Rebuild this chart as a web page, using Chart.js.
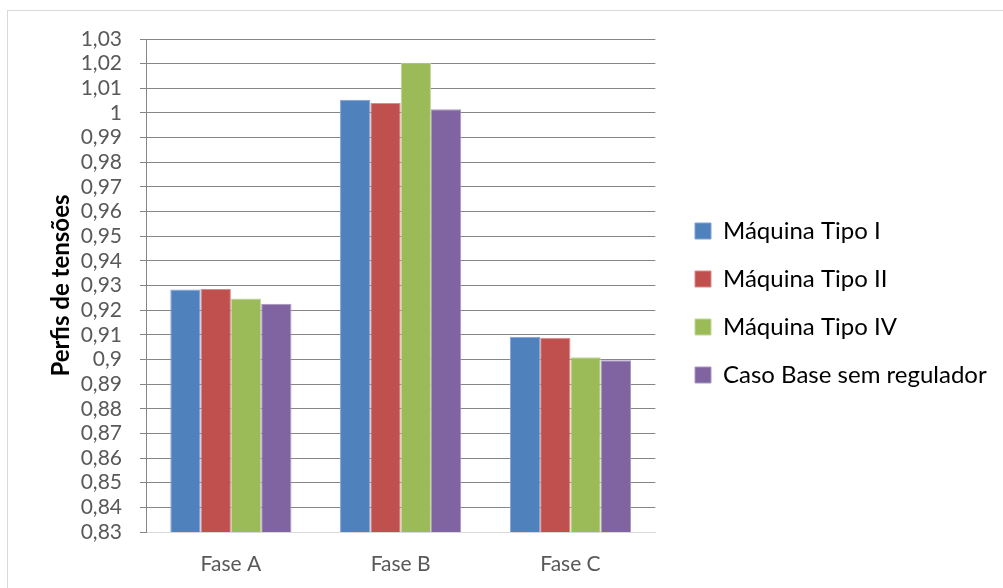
<!DOCTYPE html>
<html>
<head>
<meta charset="utf-8">
<script src="https://cdn.jsdelivr.net/npm/chart.js@4/dist/chart.umd.min.js"></script>
<style>
html,body{margin:0;padding:0;background:#fff;}
#frame{position:absolute;left:7px;top:10px;width:1100px;height:700px;border-left:1px solid #d9d9d9;border-top:1px solid #d9d9d9;box-sizing:border-box;}
#wrap{position:absolute;left:0;top:0;width:1003px;height:588px;}
</style>
</head>
<body>
<div id="frame"></div>
<div id="wrap"><canvas id="c" width="1003" height="588"></canvas></div>
<script>
const categories = ["Fase A", "Fase B", "Fase C"];
const seriesNames = ["Máquina Tipo I", "Máquina Tipo II", "Máquina Tipo IV", "Caso Base sem regulador"];
const tipoI = [0.9284, 1.0054, 0.9092];
const tipoII = [0.9286, 1.0040, 0.9088];
const tipoIV = [0.9247, 1.0204, 0.9009];
const casoBase = [0.9226, 1.0015, 0.8997];
const colors = ["#4f81bd", "#c0504d", "#9bbb59", "#8064a2"];
const borders = ["#7fa3d0", "#d58b89", "#c2d69b", "#a898c0"];
const yMin = 0.83, yMax = 1.03, yStep = 0.01;

const values = [tipoI, tipoII, tipoIV, casoBase];
const FONT = "Lato, 'Open Sans', sans-serif";
const LEGEND_BOX_X = 695;
const LEGEND_DY = -5;

const legendShift = {
  id: 'legendShift',
  afterLayout(chart) {
    const lg = chart.legend;
    if (!lg) return;
    const pad = lg.options.labels.padding;
    const dx = LEGEND_BOX_X - (lg.left + pad);
    lg.left += dx;
    lg.right += dx;
    lg.top += LEGEND_DY;
    lg.bottom += LEGEND_DY;
  }
};

new Chart(document.getElementById('c'), {
  type: 'bar',
  data: {
    labels: categories,
    datasets: values.map((v, i) => ({
      label: seriesNames[i],
      data: v,
      backgroundColor: colors[i],
      borderColor: borders[i],
      borderWidth: 1,
      categoryPercentage: 0.714,
      barPercentage: 1.0
    }))
  },
  plugins: [legendShift],
  options: {
    responsive: false,
    animation: false,
    layout: { padding: { left: 47, top: 39, right: 22, bottom: 11 } },
    plugins: {
      tooltip: { enabled: false },
      legend: {
        position: 'right',
        align: 'center',
        maxWidth: 500,
        labels: {
          boxWidth: 16, boxHeight: 16,
          padding: 24,
          color: '#000',
          font: { family: FONT, size: 24 }
        }
      }
    },
    scales: {
      x: {
        afterFit: s => { s.height = 45; },
        grid: { display: false, drawTicks: false },
        border: { color: '#d9d9d9', width: 1 },
        ticks: { color: '#595959', font: { family: FONT, size: 21 }, padding: 20 }
      },
      y: {
        afterFit: s => { s.width = 99; },
        min: yMin, max: yMax,
        grid: {
          color: ctx => (ctx.tick && Math.abs(ctx.tick.value - yMin) < 1e-9) ? '#d9d9d9' : '#868686',
          tickColor: '#868686',
          tickLength: 6,
          lineWidth: 1
        },
        border: { color: '#868686', width: 1 },
        ticks: {
          stepSize: yStep,
          autoSkip: false,
          color: '#595959',
          padding: 18,
          font: { family: FONT, size: 21 },
          callback: v => String(Number(v.toFixed(2))).replace('.', ',')
        },
        title: {
          display: true,
          text: 'Perfis de tensões',
          color: '#000',
          font: { family: FONT, size: 24, weight: 'bold' },
          padding: { top: 0, bottom: 4 }
        }
      }
    }
  }
});
</script>
</body>
</html>
